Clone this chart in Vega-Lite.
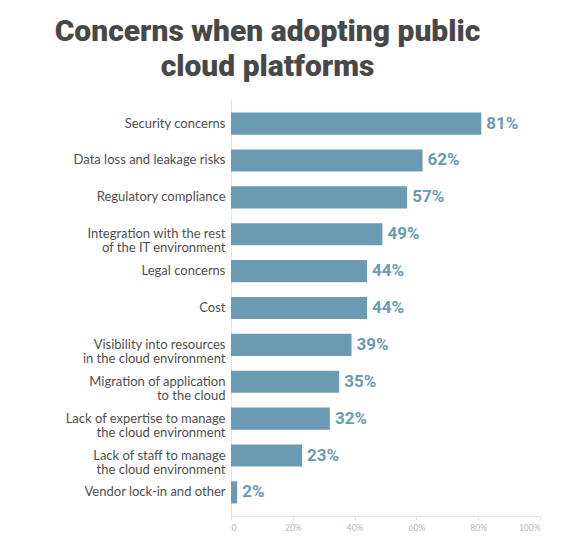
{
  "$schema": "https://vega.github.io/schema/vega-lite/v6.json",
  "autosize": "none",
  "width": 309,
  "height": 416,
  "padding": {"left": 231, "top": 100, "right": 44, "bottom": 24},
  "background": "white",
  "title": {
    "text": ["Concerns when adopting public", "cloud platforms"],
    "font": "Roboto",
    "fontWeight": 900,
    "fontSize": 30,
    "color": "#484848",
    "lineHeight": 35,
    "anchor": "middle",
    "frame": "group",
    "dx": -118,
    "offset": 18
  },
  "data": {
    "values": [
      {"concern": "Security concerns", "pct": 81},
      {"concern": "Data loss and leakage risks", "pct": 62},
      {"concern": "Regulatory compliance", "pct": 57},
      {"concern": "Integration with the rest|of the IT environment", "pct": 49},
      {"concern": "Legal concerns", "pct": 44},
      {"concern": "Cost", "pct": 44},
      {"concern": "Visibility into resources|in the cloud environment", "pct": 39},
      {"concern": "Migration of application|to the cloud", "pct": 35},
      {"concern": "Lack of expertise to manage|the cloud environment", "pct": 32},
      {"concern": "Lack of staff to manage|the cloud environment", "pct": 23},
      {"concern": "Vendor lock-in and other", "pct": 2}
    ]
  },
  "encoding": {
    "y": {
      "field": "concern",
      "type": "nominal",
      "sort": null,
      "scale": {"paddingInner": 0.4, "paddingOuter": 0.34},
      "axis": {
        "title": null,
        "ticks": false,
        "domain": true,
        "domainColor": "#e2e2e2",
        "labelExpr": "split(datum.label, '|')",
        "labelFont": "Lato",
        "labelFontSize": 13,
        "labelColor": "#4f4f4f",
        "labelLineHeight": 14,
        "labelPadding": 6,
        "labelLimit": 250
      }
    },
    "x": {
      "field": "pct",
      "type": "quantitative",
      "scale": {"domain": [0, 100], "nice": false},
      "axis": {
        "title": null,
        "values": [0, 20, 40, 60, 80, 100],
        "labelExpr": "datum.value == 0 ? '0' : datum.value + '%'",
        "grid": false,
        "domainColor": "#e2e2e2",
        "tickColor": "#e2e2e2",
        "tickSize": 4,
        "labelFont": "Lato",
        "labelFontSize": 8.5,
        "labelColor": "#b8b8b8",
        "labelPadding": 3
      }
    }
  },
  "layer": [
    {"mark": {"type": "bar", "color": "#6a9bb3"}},
    {
      "mark": {
        "type": "text",
        "align": "left",
        "baseline": "middle",
        "dx": 5,
        "font": "Roboto",
        "fontWeight": "bold",
        "fontSize": 17,
        "color": "#6a9bb3",
        "text": {"expr": "datum.pct + '%'"}
      }
    }
  ],
  "config": {"view": {"stroke": null}}
}
